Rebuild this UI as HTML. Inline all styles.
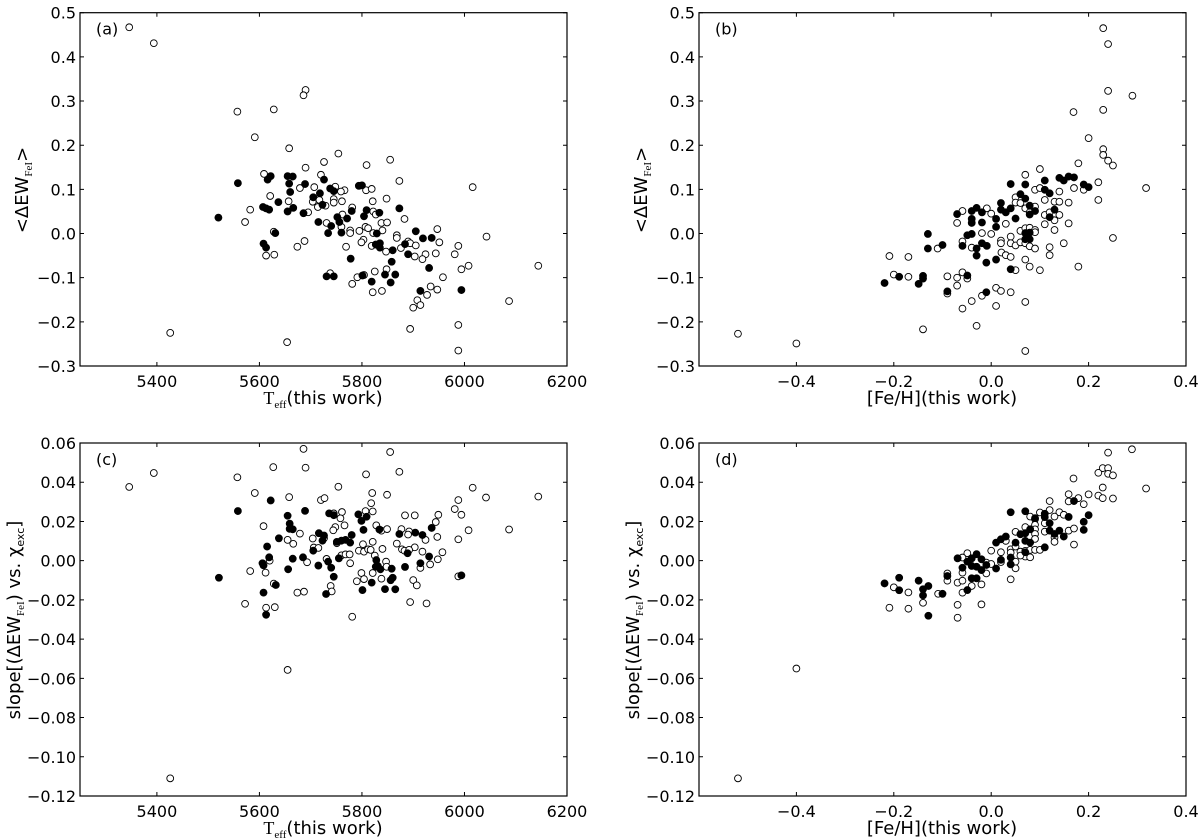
<!DOCTYPE html>
<html><head><meta charset="utf-8"><style>
html,body{margin:0;padding:0;background:#fff;}
svg{display:block;font-family:"DejaVu Sans","Liberation Sans",sans-serif;}
</style></head><body>
<svg id="fig" width="1200" height="840" viewBox="0 0 1200 840" xmlns="http://www.w3.org/2000/svg"></svg>
<script>
// ---- data ----
const aOpen=[[5346,0.467],[5394,0.431],[5426,-0.225],[5690,0.325],[5686,0.313],[5557,0.276],[5628,0.281],[5591,0.218],[5658,0.193],[5754,0.181],[5726,0.162],[5690,0.149],[5809,0.155],[5855,0.167],[5873,0.119],[6016,0.105],[5609,0.135],[5679,0.103],[5707,0.105],[5720,0.133],[5748,0.106],[5766,0.098],[5759,0.095],[5808,0.098],[5819,0.101],[5621,0.085],[5657,0.073],[5704,0.072],[5717,0.076],[5714,0.060],[5729,0.063],[5745,0.078],[5761,0.073],[5745,0.070],[5781,0.059],[5821,0.073],[5848,0.079],[5582,0.054],[5572,0.026],[5695,0.048],[5762,0.043],[5822,0.050],[5827,0.043],[5883,0.033],[5731,0.024],[5760,0.015],[5777,0.007],[5777,0.001],[5795,0.006],[5807,0.015],[5812,0.012],[5838,0.024],[5849,0.025],[5822,0.001],[5840,0.007],[5947,0.010],[5868,-0.004],[5868,-0.010],[5890,-0.018],[5894,-0.022],[5905,-0.027],[5951,-0.020],[5876,-0.033],[5988,-0.028],[6043,-0.007],[5628,0.004],[5688,-0.017],[5674,-0.030],[5803,-0.014],[5799,-0.020],[5819,-0.028],[5769,-0.030],[5613,-0.050],[5629,-0.048],[5847,-0.041],[5903,-0.052],[5924,-0.047],[5918,-0.058],[5944,-0.045],[5981,-0.047],[6008,-0.073],[5994,-0.081],[5738,-0.090],[5791,-0.099],[5804,-0.094],[5825,-0.086],[5848,-0.081],[5958,-0.099],[5781,-0.114],[5821,-0.133],[5839,-0.130],[5934,-0.120],[5947,-0.127],[5927,-0.139],[5908,-0.151],[5914,-0.162],[5900,-0.168],[6087,-0.153],[5894,-0.216],[5988,-0.207],[5654,-0.246],[5988,-0.265],[6144,-0.073]];
const aFilled=[[5558,0.114],[5616,0.122],[5622,0.130],[5655,0.130],[5665,0.129],[5658,0.113],[5660,0.094],[5689,0.112],[5726,0.122],[5738,0.102],[5745,0.096],[5718,0.091],[5705,0.082],[5637,0.071],[5607,0.060],[5613,0.057],[5619,0.054],[5655,0.050],[5666,0.058],[5686,0.046],[5723,0.065],[5520,0.036],[5715,0.026],[5740,0.017],[5734,0.001],[5752,0.037],[5756,0.026],[5771,0.034],[5760,0.002],[5780,0.051],[5804,0.039],[5809,0.053],[5794,0.108],[5800,0.109],[5834,0.047],[5829,0.000],[5873,0.057],[5905,0.005],[5919,-0.011],[5936,-0.010],[5884,-0.024],[5835,-0.022],[5827,-0.025],[5835,-0.032],[5860,-0.038],[5631,0.001],[5608,-0.023],[5613,-0.032],[5778,-0.057],[5858,-0.064],[5890,-0.047],[5931,-0.078],[5731,-0.097],[5745,-0.097],[5801,-0.095],[5819,-0.109],[5845,-0.093],[5865,-0.093],[5856,-0.111],[5914,-0.130],[5994,-0.128]];
const bOpen=[[-0.52,-0.227],[-0.40,-0.249],[0.23,0.465],[0.24,0.429],[0.24,0.323],[0.29,0.312],[0.23,0.28],[0.169,0.275],[0.20,0.216],[0.23,0.191],[0.23,0.178],[0.24,0.165],[0.25,0.154],[0.179,0.159],[0.318,0.103],[0.22,0.116],[0.22,0.076],[0.25,-0.01],[0.179,-0.075],[0.10,0.146],[0.07,0.133],[0.09,0.099],[0.10,0.103],[0.14,0.095],[0.17,0.103],[0.19,0.099],[0.11,0.076],[0.13,0.072],[0.14,0.072],[0.159,0.07],[0.11,0.042],[0.12,0.048],[0.14,0.042],[0.13,0.03],[0.159,0.023],[0.11,0.021],[0.13,0.008],[0.149,-0.022],[0.12,-0.031],[0.12,-0.049],[-0.009,0.057],[0.0,0.045],[0.05,0.082],[0.05,0.07],[0.06,0.069],[0.07,0.057],[0.09,0.061],[0.079,0.048],[-0.059,0.051],[-0.07,0.024],[0.03,0.022],[-0.019,0.001],[0.0,-0.001],[0.06,0.006],[0.07,0.012],[0.079,0.013],[0.09,0.008],[0.09,0.003],[0.04,-0.007],[0.02,-0.016],[0.02,-0.022],[0.04,-0.022],[0.05,-0.027],[0.06,-0.020],[0.07,-0.022],[0.079,-0.029],[0.09,-0.034],[-0.059,-0.018],[-0.04,-0.032],[-0.11,-0.034],[0.021,-0.043],[0.03,-0.049],[0.04,-0.053],[0.07,-0.059],[0.079,-0.075],[0.10,-0.083],[0.05,-0.083],[-0.209,-0.051],[-0.17,-0.053],[-0.20,-0.093],[-0.17,-0.098],[-0.09,-0.097],[-0.07,-0.10],[-0.059,-0.088],[-0.049,-0.102],[-0.07,-0.118],[-0.09,-0.136],[0.01,-0.123],[0.02,-0.13],[0.04,-0.133],[-0.019,-0.141],[-0.04,-0.153],[-0.059,-0.17],[0.01,-0.164],[0.07,-0.155],[-0.03,-0.209],[-0.14,-0.217],[0.07,-0.266]];
const bFilled=[[0.04,0.112],[0.07,0.111],[0.11,0.12],[0.14,0.126],[0.149,0.12],[0.159,0.129],[0.17,0.127],[0.19,0.111],[0.20,0.105],[0.11,0.099],[0.12,0.091],[0.06,0.089],[0.07,0.079],[0.02,0.069],[0.04,0.057],[0.02,0.054],[0.03,0.048],[0.05,0.034],[0.079,0.063],[0.079,0.043],[0.09,0.051],[0.13,0.054],[0.12,0.037],[-0.03,0.058],[-0.04,0.051],[-0.07,0.044],[-0.019,0.048],[-0.04,0.033],[-0.04,0.024],[-0.019,0.025],[0.01,0.033],[0.01,0.015],[-0.13,-0.001],[-0.049,-0.004],[-0.04,-0.001],[0.07,0.001],[0.079,0.002],[0.07,-0.013],[0.079,-0.013],[-0.13,-0.034],[-0.10,-0.026],[-0.059,-0.028],[-0.03,-0.034],[-0.019,-0.022],[-0.009,-0.028],[-0.03,-0.05],[-0.01,-0.066],[0.01,-0.059],[0.04,-0.081],[-0.219,-0.112],[-0.189,-0.098],[-0.14,-0.096],[-0.14,-0.102],[-0.149,-0.114],[-0.09,-0.131],[-0.049,-0.095],[-0.01,-0.133]];
const cOpen=[[5346,0.0376],[5394,0.0447],[5426,-0.111],[5686,0.057],[5855,0.0554],[5627,0.0477],[5690,0.0474],[5557,0.0425],[5808,0.044],[5873,0.0453],[5754,0.0377],[6016,0.0372],[5591,0.0345],[5658,0.0324],[5720,0.0309],[5727,0.0319],[5820,0.0345],[5849,0.0336],[5818,0.0293],[6042,0.0322],[6144,0.0327],[5988,0.0309],[5981,0.0263],[5994,0.0234],[5949,0.0234],[5903,0.0231],[5884,0.0231],[5944,0.0197],[5761,0.0248],[5758,0.0216],[5745,0.0241],[5807,0.0253],[5821,0.0251],[5766,0.018],[5748,0.0171],[5744,0.0155],[5828,0.018],[5838,0.0153],[5849,0.0161],[5877,0.0161],[5892,0.0149],[5890,0.0133],[5947,0.0121],[6008,0.0155],[6087,0.0159],[5988,0.0109],[5924,0.0106],[5608,0.0176],[5679,0.0138],[5704,0.0113],[5655,0.0106],[5666,0.0086],[5726,0.0114],[5751,0.0089],[5802,0.0084],[5821,0.0096],[5868,0.0087],[5903,0.0068],[5878,0.0058],[5883,0.0051],[5892,0.0055],[5794,0.0051],[5804,0.0046],[5812,0.0058],[5817,0.0055],[5840,0.006],[5918,0.0046],[5957,0.0043],[5706,0.0067],[5715,0.0065],[5760,0.0027],[5768,0.0032],[5776,0.0032],[5620,0.0],[5731,0.0009],[5693,-0.0008],[5777,-0.0013],[5825,0.0026],[5847,-0.0005],[5948,0.0007],[5933,-0.0019],[5914,-0.0037],[5582,-0.0053],[5612,-0.0061],[5799,-0.0063],[5821,-0.0063],[5848,-0.0031],[5988,-0.008],[5804,-0.0094],[5790,-0.0105],[5838,-0.0092],[5900,-0.0099],[5907,-0.0126],[5628,-0.0117],[5739,-0.0129],[5741,-0.0157],[5674,-0.0163],[5687,-0.0158],[5572,-0.022],[5613,-0.024],[5630,-0.0237],[5894,-0.0211],[5926,-0.0218],[5781,-0.0286],[5655,-0.0557]];
const cFilled=[[5558,0.0253],[5622,0.0307],[5689,0.0254],[5655,0.0229],[5659,0.0189],[5659,0.0162],[5665,0.016],[5736,0.0241],[5745,0.0232],[5793,0.0236],[5809,0.0224],[5799,0.0203],[5803,0.0157],[5834,0.0159],[5873,0.0136],[5904,0.0143],[5918,0.0131],[5936,0.0167],[5716,0.014],[5726,0.0128],[5723,0.0102],[5751,0.0096],[5760,0.0102],[5768,0.0106],[5777,0.0092],[5780,0.0131],[5638,0.0114],[5615,0.0072],[5705,0.0051],[5619,0.0017],[5606,-0.0013],[5608,-0.0024],[5665,0.001],[5685,0.0017],[5734,-0.0005],[5755,0.0012],[5715,-0.0025],[5740,-0.0036],[5656,-0.0044],[5828,0.0003],[5827,-0.0031],[5836,-0.0044],[5831,-0.0027],[5858,-0.0041],[5884,-0.0032],[5914,-0.0013],[5931,0.0021],[5889,0.0038],[5521,-0.0087],[5745,-0.0082],[5632,-0.0124],[5608,-0.0163],[5730,-0.017],[5801,-0.015],[5819,-0.0112],[5845,-0.0145],[5856,-0.01],[5860,-0.0087],[5865,-0.0146],[5994,-0.0075],[5613,-0.0276]];
const dOpen=[[-0.52,-0.111],[-0.40,-0.055],[0.240,0.0551],[0.289,0.0568],[0.229,0.0472],[0.240,0.0472],[0.220,0.0448],[0.240,0.0443],[0.250,0.0435],[0.169,0.0419],[0.318,0.0368],[0.229,0.0373],[0.220,0.0332],[0.229,0.0319],[0.250,0.0317],[0.200,0.0338],[0.159,0.0339],[0.159,0.0302],[0.179,0.0319],[0.190,0.0288],[0.120,0.0304],[0.120,0.0258],[0.100,0.0246],[0.140,0.0247],[0.130,0.0225],[0.149,0.0234],[0.080,0.0225],[0.090,0.0211],[0.070,0.0171],[0.090,0.0183],[0.110,0.0191],[0.110,0.0148],[0.090,0.0160],[0.090,0.0136],[0.090,0.0111],[0.130,0.0118],[0.130,0.0096],[0.159,0.0153],[0.170,0.0164],[0.170,0.0082],[0.050,0.0147],[0.030,0.0101],[0.040,0.0058],[0.040,0.0041],[0.050,0.0072],[0.060,0.0046],[0.070,0.0050],[0.080,0.0055],[0.090,0.0055],[0.100,0.0055],[0.070,0.0021],[0.080,0.0017],[0.060,0.0026],[0.000,0.0051],[0.020,0.0043],[0.020,-0.0007],[0.050,-0.0005],[0.050,-0.0039],[-0.049,0.0038],[-0.059,0.0016],[-0.010,-0.001],[0.000,-0.0017],[-0.010,-0.0065],[-0.059,-0.0061],[-0.090,-0.0065],[-0.090,-0.0102],[-0.069,-0.0112],[-0.059,-0.0102],[-0.040,-0.0129],[-0.020,-0.0121],[-0.059,-0.0163],[-0.109,-0.0169],[0.040,-0.0095],[-0.200,-0.0136],[-0.170,-0.0162],[-0.140,-0.0215],[-0.209,-0.0240],[-0.170,-0.0245],[-0.069,-0.0225],[-0.020,-0.0223],[-0.069,-0.0291]];
const dFilled=[[0.170,0.0304],[0.040,0.0247],[0.070,0.0252],[0.110,0.0239],[0.110,0.0222],[0.090,0.0217],[0.159,0.0223],[0.200,0.0232],[0.190,0.0198],[0.190,0.0157],[0.120,0.0191],[0.120,0.0153],[0.140,0.0153],[0.130,0.0136],[0.149,0.0123],[0.110,0.0068],[0.080,0.0160],[0.070,0.0140],[0.060,0.0135],[0.070,0.0101],[0.080,0.0092],[0.050,0.0092],[0.030,0.0123],[0.020,0.0109],[0.010,0.0092],[0.070,0.0043],[0.040,0.0016],[0.040,-0.0019],[0.020,0.0004],[0.010,-0.004],[-0.030,0.0033],[-0.040,0.0012],[-0.049,-0.0005],[-0.069,0.0012],[-0.020,0.0007],[-0.030,-0.0031],[-0.040,-0.0027],[-0.059,-0.0036],[-0.010,-0.0022],[-0.020,-0.0048],[-0.040,-0.009],[-0.030,-0.009],[-0.049,-0.015],[-0.090,-0.0078],[-0.100,-0.0169],[-0.219,-0.0116],[-0.189,-0.0087],[-0.189,-0.0151],[-0.149,-0.0102],[-0.140,-0.0146],[-0.129,-0.0129],[-0.140,-0.0177],[-0.129,-0.0281]];
const tTicks=[5400,5600,5800,6000,6200];
const tTickLabels=["5400","5600","5800","6000","6200"];
const fTicks=[-0.4,-0.2,0.0,0.2,0.4];
const fTickLabels=["\u22120.4","\u22120.2","0.0","0.2","0.4"];
const ewTicks=[-0.3,-0.2,-0.1,0.0,0.1,0.2,0.3,0.4,0.5];
const ewTickLabels=["\u22120.3","\u22120.2","\u22120.1","0.0","0.1","0.2","0.3","0.4","0.5"];
const slTicks=[-0.12,-0.10,-0.08,-0.06,-0.04,-0.02,0.00,0.02,0.04,0.06];
const slTickLabels=["\u22120.12","\u22120.10","\u22120.08","\u22120.06","\u22120.04","\u22120.02","0.00","0.02","0.04","0.06"];

const NS="http://www.w3.org/2000/svg";
const svg=document.getElementById('fig');
function mk(tag,attrs,parent){const e=document.createElementNS(NS,tag);for(const k in attrs)e.setAttribute(k,attrs[k]);(parent||svg).appendChild(e);return e;}

function panel(cfg){
  const g=mk('g',{});
  
  
  const sx=v=>cfg.L+(v-cfg.x0)/(cfg.x1-cfg.x0)*(cfg.R-cfg.L);
  const sy=v=>cfg.B-(v-cfg.y0)/(cfg.y1-cfg.y0)*(cfg.B-cfg.T);
  cfg.xt.forEach((t,i)=>{
    const x=sx(t);
    const tk=mk('path',{d:`M${x},${cfg.B}v-4M${x},${cfg.T}v4`,stroke:'#000','stroke-width':1},g);
    
    
    const tl=mk('text',{x:x,y:cfg.B+21,'font-size':16,'text-anchor':'middle'},g);
    tl.textContent=cfg.xl[i];
    
    
  });
  cfg.yt.forEach((t,i)=>{
    const y=sy(t);
    const tk=mk('path',{d:`M${cfg.L},${y}h4M${cfg.R},${y}h-4`,stroke:'#000','stroke-width':1},g);
    
    
    const tl=mk('text',{x:cfg.L-4,y:y+6,'font-size':16,'text-anchor':'end'},g);
    tl.textContent=cfg.yl[i];
    
    
  });
  cfg.open.forEach(p=>{
    const c=mk('circle',{cx:sx(p[0]),cy:sy(p[1]),r:3.4,fill:'#fff',stroke:'#000','stroke-width':0.9},g);
    
    
  });
  cfg.filled.forEach(p=>{
    const c=mk('circle',{cx:sx(p[0]),cy:sy(p[1]),r:3.6,fill:'#000',stroke:'#000','stroke-width':0.6},g);
    
    
  });
  const fr=mk('rect',{x:cfg.L,y:cfg.T,width:cfg.R-cfg.L,height:cfg.B-cfg.T,fill:'none',stroke:'#000','stroke-width':1.2},g);
  
  
  const lb=mk('text',{x:cfg.L+16,y:cfg.T+22,'font-size':16},g);
  lb.textContent=cfg.label;
  
  
}
panel({name:'panel-a',L:80,R:567,T:12.7,B:366,x0:5250,x1:6200,y0:-0.3,y1:0.5,xt:tTicks,xl:tTickLabels,yt:ewTicks,yl:ewTickLabels,open:aOpen,filled:aFilled,label:'(a)'});
panel({name:'panel-b',L:699,R:1186,T:12.7,B:366,x0:-0.6,x1:0.4,y0:-0.3,y1:0.5,xt:fTicks,xl:fTickLabels,yt:ewTicks,yl:ewTickLabels,open:bOpen,filled:bFilled,label:'(b)'});
panel({name:'panel-c',L:80,R:567,T:443,B:796,x0:5250,x1:6200,y0:-0.12,y1:0.06,xt:tTicks,xl:tTickLabels,yt:slTicks,yl:slTickLabels,open:cOpen,filled:cFilled,label:'(c)'});
panel({name:'panel-d',L:699,R:1186,T:443,B:796,x0:-0.6,x1:0.4,y0:-0.12,y1:0.06,xt:fTicks,xl:fTickLabels,yt:slTicks,yl:slTickLabels,open:dOpen,filled:dFilled,label:'(d)'});
</script>
<svg style="position:absolute;left:0;top:0" width="1200" height="840" xmlns="http://www.w3.org/2000/svg" font-family="DejaVu Sans, Liberation Sans, sans-serif">
  <text x="323" y="404" font-size="18" text-anchor="middle"><tspan font-family="Liberation Serif, serif">T</tspan><tspan font-family="Liberation Serif, serif" font-size="11" dy="4">eff</tspan><tspan dy="-4">(this work)</tspan></text>
  <text x="942" y="404" font-size="18" text-anchor="middle">[Fe/H](this work)</text>
  <text x="323" y="834" font-size="18" text-anchor="middle"><tspan font-family="Liberation Serif, serif">T</tspan><tspan font-family="Liberation Serif, serif" font-size="11" dy="4">eff</tspan><tspan dy="-4">(this work)</tspan></text>
  <text x="942" y="834" font-size="18" text-anchor="middle">[Fe/H](this work)</text>
  <text transform="translate(28,190) rotate(-90)" font-size="18" text-anchor="middle">&lt;ΔEW<tspan font-family="Liberation Serif, serif" font-size="11" dy="4">FeI</tspan><tspan dy="-4">&gt;</tspan></text>
  <text transform="translate(647,190) rotate(-90)" font-size="18" text-anchor="middle">&lt;ΔEW<tspan font-family="Liberation Serif, serif" font-size="11" dy="4">FeI</tspan><tspan dy="-4">&gt;</tspan></text>
  <text transform="translate(20,620) rotate(-90)" font-size="18" text-anchor="middle">slope[(ΔEW<tspan font-family="Liberation Serif, serif" font-size="11" dy="4">FeI</tspan><tspan dy="-4">) vs. χ</tspan><tspan font-size="11" dy="4">exc</tspan><tspan dy="-4">]</tspan></text>
  <text transform="translate(639,620) rotate(-90)" font-size="18" text-anchor="middle">slope[(ΔEW<tspan font-family="Liberation Serif, serif" font-size="11" dy="4">FeI</tspan><tspan dy="-4">) vs. χ</tspan><tspan font-size="11" dy="4">exc</tspan><tspan dy="-4">]</tspan></text>
</svg>
</body></html>
